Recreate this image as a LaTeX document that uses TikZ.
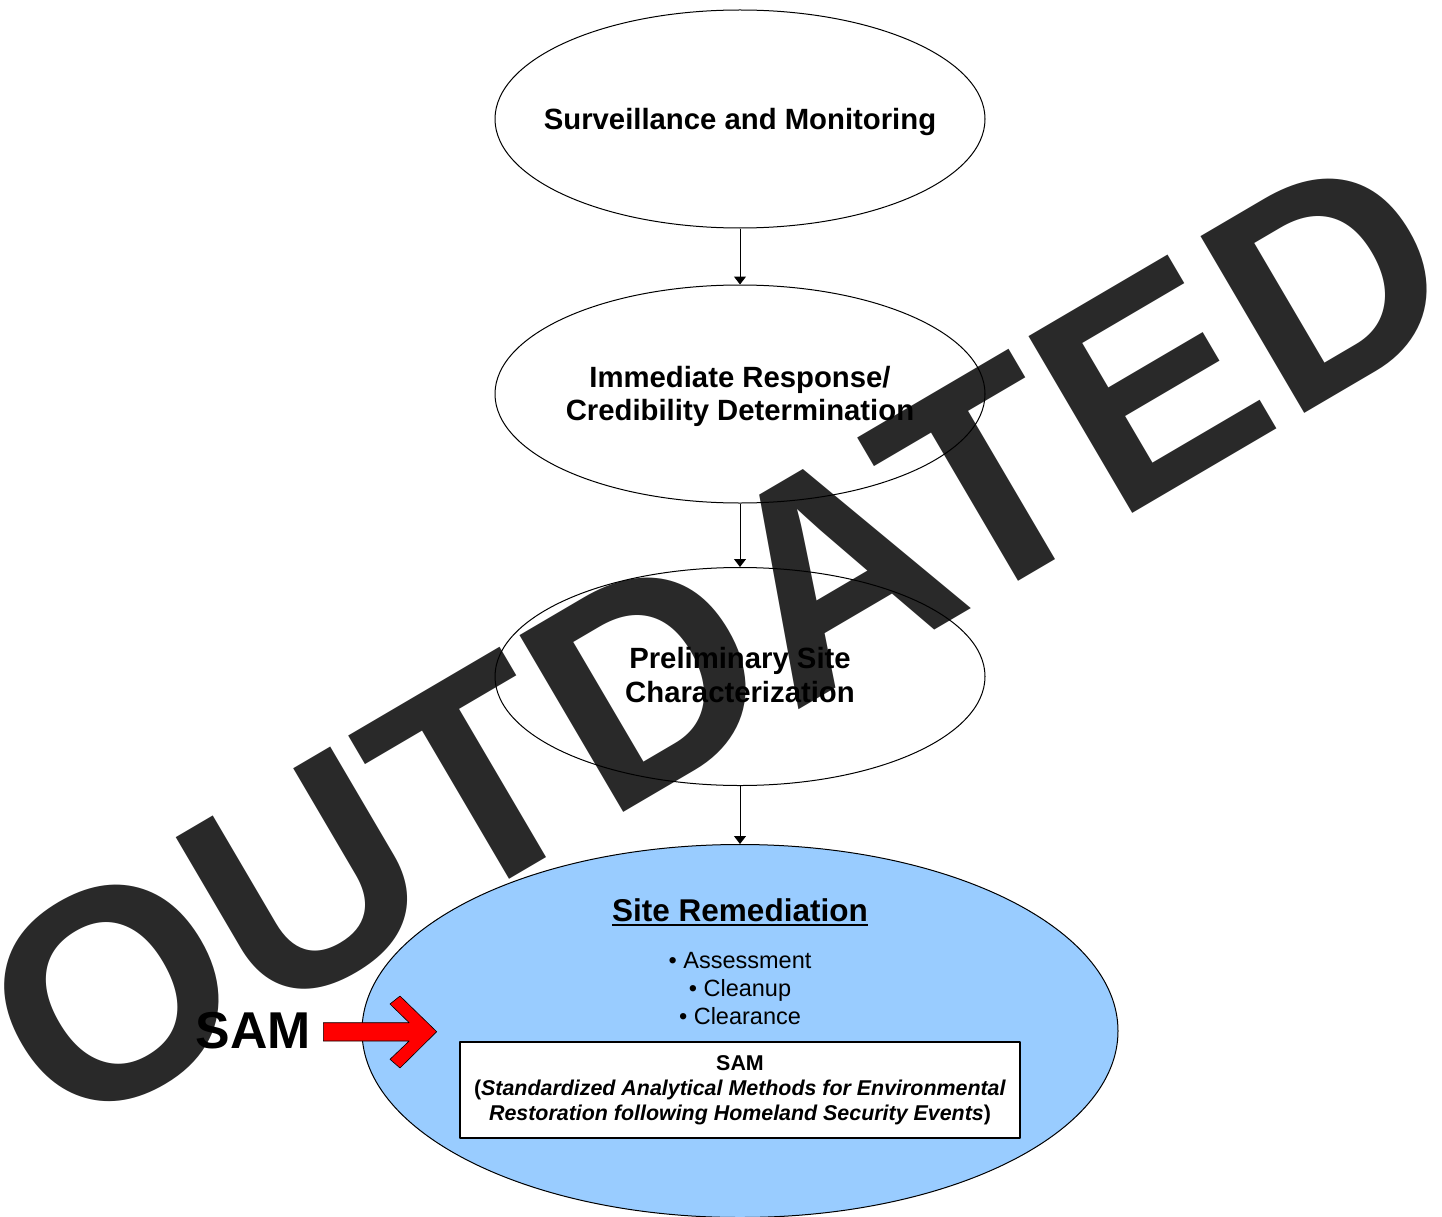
\documentclass[tikz,border=0pt]{standalone}
\usepackage{fontspec}
\setmainfont{Liberation Sans}
\usetikzlibrary{shapes.geometric}
\usetikzlibrary{arrows.meta}
\definecolor{stampgray}{RGB}{41,41,41}
\definecolor{remblue}{RGB}{153,204,255}
\definecolor{samred}{RGB}{255,0,0}

\begin{document}
\begin{tikzpicture}[x=1pt, y=-1pt, line join=round,
  stage/.style={ellipse, draw, line width=1pt, minimum width=490pt, minimum height=218pt, inner sep=0pt},
  stagetext/.style={align=center, inner sep=0pt, font=\bfseries\fontsize{29.3}{33.5}\selectfont},
  flow/.style={-{Triangle[width=12pt,length=8pt]}, line width=1pt}]
  \fill[white] (0,0) rectangle (1442,1217);
  \useasboundingbox (0,0) rectangle (1442,1217);
  \node[text=stampgray, inner sep=0pt, rotate=30.4, anchor=base west,
        font=\bfseries\fontsize{298}{298}\selectfont] (stamp) at (64,1141) {OUTDATED};

  \node[stage] (surv) at (740,119) {};
  \node[stage] (resp) at (740,394) {};
  \node[stage] (prelim) at (740,676.5) {};
  \node[stage, fill=remblue, minimum width=756pt, minimum height=373pt] (remed) at (740,1031) {};

  \node[stagetext] (survtext) at (740,122.4) {Surveillance and Monitoring};
  \node[stagetext] (resptext) at (740,396.4) {Immediate Response/\\Credibility Determination};
  \node[stagetext] (prelimtext) at (740,674.8) {Preliminary Site\\Characterization};

  \draw[flow] (surv.south) -- (resp.north);
  \draw[flow] (resp.south) -- (prelim.north);
  \draw[flow] (prelim.south) -- (remed.north);

  \node[inner sep=0pt, anchor=base, font=\bfseries\fontsize{31.5}{34}\selectfont] (remtitle) at (740,921) {Site Remediation};
  \draw[line width=2.4pt] ([yshift=-4pt]remtitle.base west) -- ([yshift=-4pt]remtitle.base east);
  \node[align=center, inner sep=0pt, font=\fontsize{23.5}{28}\selectfont] (remlist) at (740,988.4)
    {\textbullet\ Assessment\\\textbullet\ Cleanup\\\textbullet\ Clearance};

  \node[draw, line width=2pt, fill=white, minimum width=560pt, minimum height=96pt, align=center,
        inner sep=0pt, font=\bfseries\fontsize{21.4}{25}\selectfont] (sambox) at (740,1090)
    {SAM\\(\textit{Standardized Analytical Methods for Environmental}\\
     \textit{Restoration following Homeland Security Events})};

  \node[inner sep=0pt, anchor=base, font=\bfseries\fontsize{51.8}{52}\selectfont] (samlabel) at (253.5,1048) {SAM};
  \draw[fill=samred, line width=0.6pt] (323.3,1022.7) -- (409.2,1022.7) -- (390,1004) -- (400,996)
    -- (436.7,1031.7) -- (400,1068) -- (390,1059.3) -- (409.2,1041) -- (323.3,1041) -- cycle;
\end{tikzpicture}
\end{document}
